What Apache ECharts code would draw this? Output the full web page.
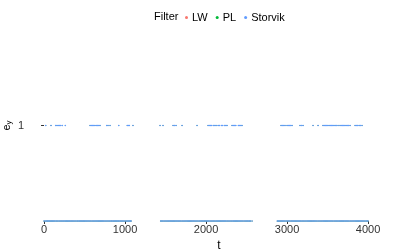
<!DOCTYPE html>
<html><head><meta charset="utf-8">
<script src="https://cdn.jsdelivr.net/npm/echarts@6/dist/echarts.min.js"></script>
<style>html,body{margin:0;padding:0;background:#fff}#c{width:415px;height:249px}</style>
</head><body><div id="c"></div>
<script>
const filters = ['LW', 'PL', 'Storvik'];
const filterColors = ['#F8766D', '#00BA38', '#619CFF'];
const xTicks = [0, 1000, 2000, 3000, 4000];
const yTicks = [1];
// t values where e_y = 0 (drawn at the bottom of the log scale)
const tZero = [
0,13,27,40,52,66,79,93,105,118,131,146,158,171,185,198,211,224,237,250,264,277,289,303,316,330,343,356,369,382,395,409,421,435,448,461,474,488,500,514,527,540,553,566,579,593,606,619,632,645,658,672,685,698,711,724,737,751,764,777,790,803,816,830,842,856,869,882,895,909,921,935,948,961,974,987,1000,1014,1027,1040,1053,1066,1075,
1440,1453,1466,1480,1493,1506,1519,1532,1545,1559,1572,1585,1598,1611,1625,1638,1651,1664,1677,1690,1704,1717,1730,1743,1756,1770,1783,1796,1809,1822,1836,1849,1862,1875,1888,1901,1915,1928,1941,1954,1967,1981,1994,2007,2020,2033,2047,2060,2073,2086,2099,2112,2126,2139,2152,2165,2178,2192,2205,2218,2231,2244,2258,2271,2284,2297,2310,2323,2337,2350,2363,2376,2389,2403,2416,2429,2442,2455,2469,2482,2495,2508,2521,2535,2548,2568,
2880,2893,2906,2920,2933,2946,2959,2972,2986,2999,3012,3025,3038,3052,3065,3078,3091,3104,3118,3131,3144,3157,3170,3184,3197,3210,3223,3236,3250,3263,3276,3289,3302,3316,3329,3342,3355,3368,3382,3395,3408,3421,3434,3448,3461,3474,3487,3500,3514,3527,3540,3553,3566,3580,3593,3606,3619,3632,3646,3659,3672,3685,3698,3712,3725,3738,3751,3764,3778,3791,3804,3817,3830,3844,3857,3870,3883,3896,3910,3923,3936,3949,3962,3976,3989,4000
];
// t values where e_y = 1
const tOne = [
21,86,144,160,175,190,205,226,263,568,583,598,613,628,645,660,676,691,774,790,815,922,1028,1040,1053,1098,
1432,1469,1593,1610,1630,1704,1889,2025,2040,2055,2070,2095,2110,2125,2150,2165,2190,2205,2230,2245,2259,2321,2336,2351,2366,2400,2415,2430,2444,
2926,2941,2960,2975,3000,3015,3030,3045,3062,3160,3180,3198,3321,3383,3444,3459,3474,3489,3504,3519,3534,3549,3564,3579,3594,3609,3630,3654,3669,3684,3699,3714,3729,3744,3759,3778,3840,3855,3870,3890,3905,3926
];
const eZero = 0, eOne = 1;

const pts = tZero.map(t => [t, eZero]).concat(tOne.map(t => [t, eOne]));
const font = 'Liberation Sans, Arial, sans-serif';
const chart = echarts.init(document.getElementById('c'), null, {renderer: 'canvas'});
chart.setOption({
  animation: false,
  backgroundColor: '#fff',
  title: {text: 'Filter', left: 149, top: 6, textStyle: {fontFamily: font, fontSize: 11, fontWeight: 'normal', color: '#000'}},
  legend: {
    data: filters, left: 180, top: 7, icon: 'circle', itemWidth: 3, itemHeight: 3, itemGap: 8,
    textStyle: {fontFamily: font, fontSize: 11, color: '#000', padding: [0,0,0,-1]}
  },
  grid: {left: 28, right: 5, top: 30, bottom: 28, outerBoundsMode: 'none', containLabel: false},
  xAxis: {
    type: 'value', min: -198, max: 4518, name: 't', nameLocation: 'middle', nameGap: 12,
    nameTextStyle: {fontFamily: font, fontSize: 12, color: '#000'},
    splitLine: {show: false}, axisLine: {show: false},
    axisTick: {show: true, length: 3, lineStyle: {color: '#333'}, customValues: xTicks},
    axisLabel: {fontFamily: font, fontSize: 11, color: '#333', margin: 3, customValues: xTicks, formatter: v => String(v)}
  },
  yAxis: {
    type: 'value', min: 0, max: 2,
    name: '{a|e}{b|y}', nameLocation: 'middle', nameRotate: 90, nameGap: 15, nameMoveOverlap: false,
    nameTextStyle: {fontFamily: font, color: '#000', rich: {a: {fontSize: 11, fontFamily: font}, b: {fontSize: 8, fontFamily: font, padding: [4,0,0,0]}}},
    splitLine: {show: false}, axisLine: {show: false},
    axisTick: {show: true, length: 3, lineStyle: {color: '#333'}, customValues: yTicks},
    axisLabel: {fontFamily: font, fontSize: 11, color: '#333', margin: 4, customValues: yTicks, formatter: v => String(v)}
  },
  series: filters.map((f, i) => ({
    name: f, type: 'scatter', data: pts, symbol: 'circle', symbolSize: i === 2 ? 1.6 : 1.1,
    itemStyle: {color: filterColors[i], opacity: 1}, silent: true
  }))
});
</script></body></html>
